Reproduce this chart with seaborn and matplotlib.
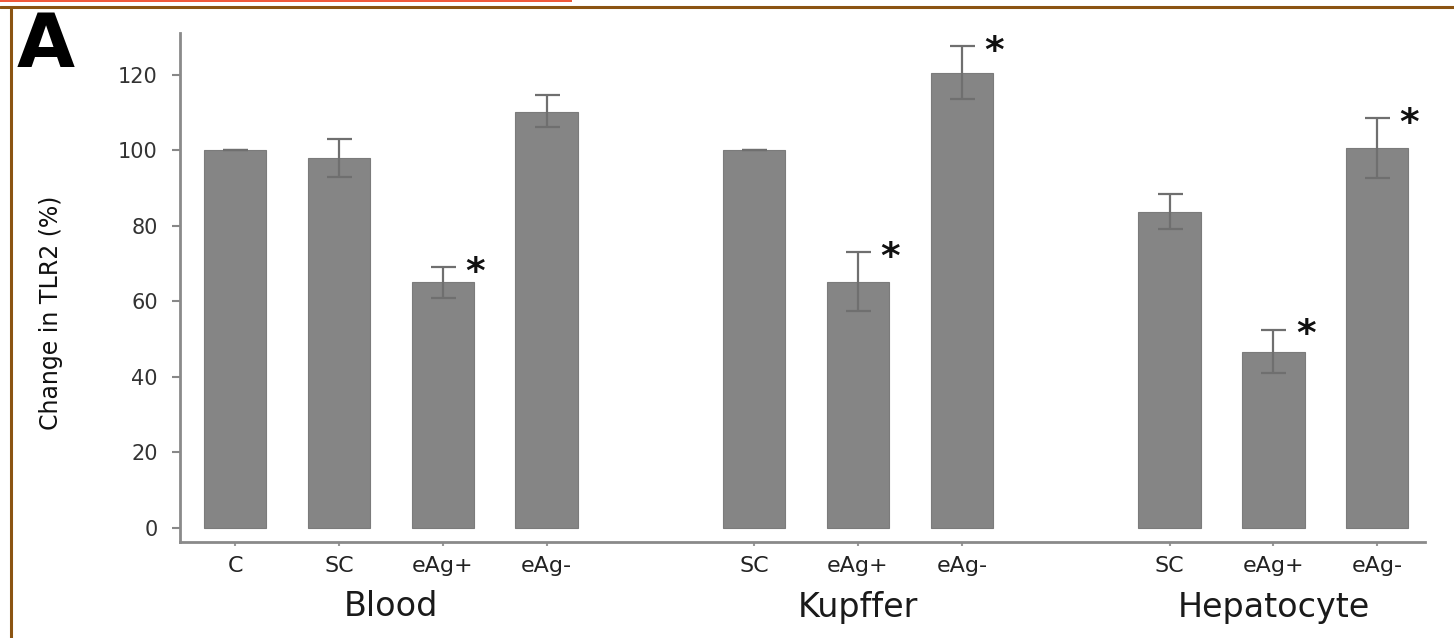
import matplotlib
matplotlib.use("Agg")
import matplotlib.pyplot as plt
from matplotlib.patches import Rectangle
from matplotlib.lines import Line2D
import matplotlib.transforms as mtransforms
import numpy as np
import pandas as pd
import seaborn as sns

# ---- data ----
groups = ["Blood", "Kupffer", "Hepatocyte"]
group_conditions = [["C", "SC", "eAg+", "eAg-"],
                    ["SC", "eAg+", "eAg-"],
                    ["SC", "eAg+", "eAg-"]]
values = [100, 98, 65, 110, 100, 65, 120.5, 83.5, 46.5, 100.5]
err_upper = [0, 5, 4, 4.5, 0, 8, 7, 5, 6, 8]
err_lower = [0, 5, 4, 4, 0, 7.5, 7, 4.5, 5.5, 8]
significant = [False, False, True, False, False, True, True, False, True, True]
yticks = [0, 20, 40, 60, 80, 100, 120]
ylabel = "Change in TLR2 (%)"

# ---- build positions (gap of one slot between groups) ----
labels, pos, grp_centers = [], [], []
p = 0
for g, conds in zip(groups, group_conditions):
    start = p
    for c in conds:
        labels.append(c)
        pos.append(p)
        p += 1
    grp_centers.append((start + p - 1) / 2)
    p += 1
df = pd.DataFrame({"pos": pos, "value": values, "label": labels})

sns.set_theme(style="white")
plt.rcParams["font.family"] = ["DejaVu Sans"]

W, H = 1454, 638
fig = plt.figure(figsize=(W / 100, H / 100), dpi=100)
fig.patch.set_facecolor("white")
ax = fig.add_axes([180 / W, 1 - 542 / H, (1425 - 180) / W, (542 - 33) / H])

bar_col = "#858585"
sns.barplot(data=df, x="pos", y="value", native_scale=True, width=0.6,
            color=bar_col, saturation=1, errorbar=None, ax=ax,
            edgecolor="#7b7b7b", linewidth=0.8)

yerr = np.array([err_lower, err_upper])
ax.errorbar(df["pos"], df["value"], yerr=yerr, fmt="none", ecolor="#6f6f6f",
            elinewidth=1.6, capsize=9, capthick=1.6, zorder=3)

for x, v, eu, s in zip(df["pos"], values, err_upper, significant):
    if s:
        ax.text(x + 0.31, v + eu - 1.5, "*", fontsize=27, fontweight="bold",
                ha="center", va="center", color="#111111")

ax.set_xlim(-0.53, 11.46)
ax.set_ylim(-3.7, 131)
ax.set_yticks(yticks)
ax.set_yticklabels([str(t) for t in yticks], fontsize=15, color="#333333")
ax.set_xticks(pos)
ax.set_xticklabels(labels, fontsize=16, color="#222222")
ax.tick_params(axis="y", length=6, width=1.5, color="#888888", pad=10, left=True)
ax.tick_params(axis="x", length=3, width=1.5, color="#999999", pad=7, bottom=True)
ax.set_xlabel("")
ax.set_ylabel(ylabel, fontsize=17, color="#111111")
ax.yaxis.set_label_coords(-0.094, 0.45)

for side in ["top", "right"]:
    ax.spines[side].set_visible(False)
for side in ["left", "bottom"]:
    ax.spines[side].set_color("#8a8a8a")
    ax.spines[side].set_linewidth(2)

trans = mtransforms.blended_transform_factory(ax.transData, ax.transAxes)
for g, cx in zip(groups, grp_centers):
    ax.text(cx, -65 / 509, g, transform=trans, ha="center", va="center",
            fontsize=24, color="#1a1a1a")

# panel letter
fig.text(17 / W, 1 - 67 / H, "A", fontsize=54, fontweight="bold",
         ha="left", va="baseline", color="black")

# frame lines
brown = "#8b5412"
fig.add_artist(Line2D([0, 1], [1 - 7 / H, 1 - 7 / H], transform=fig.transFigure,
                      color=brown, linewidth=2.2))
fig.add_artist(Line2D([10.5 / W, 10.5 / W], [0, 1 - 7 / H], transform=fig.transFigure,
                      color=brown, linewidth=2.2))
fig.add_artist(Rectangle((0, 1 - 2 / H), 572 / W, 2 / H, transform=fig.transFigure,
                         facecolor="#f0583a", edgecolor="none"))

fig.savefig("out.png", dpi=100)
